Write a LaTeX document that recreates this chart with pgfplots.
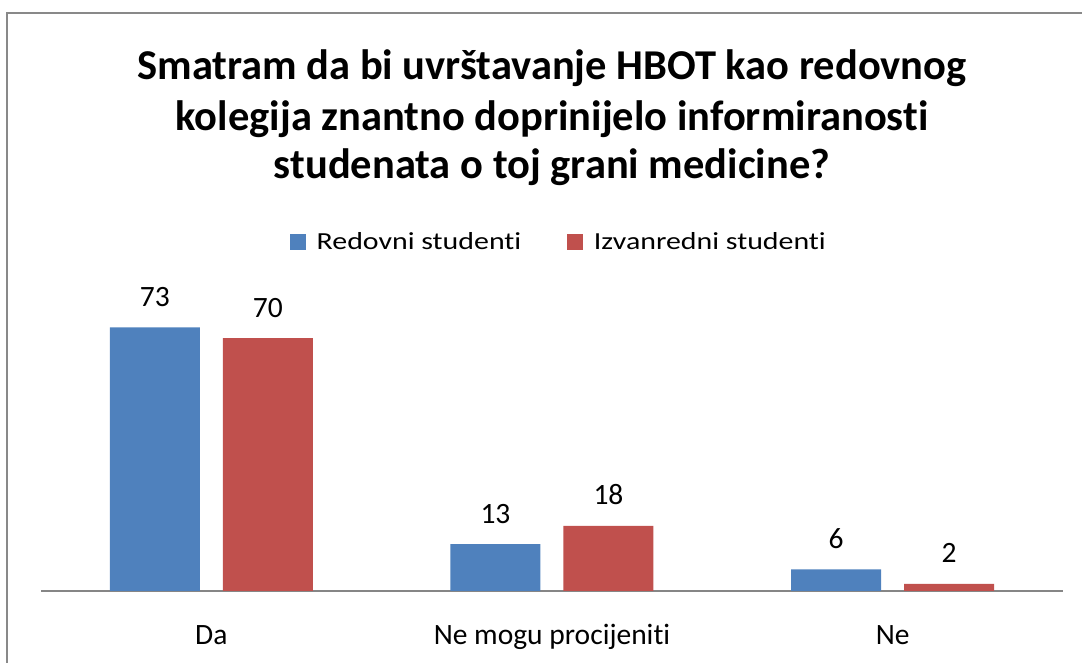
\documentclass[border=0pt]{standalone}
\usepackage{pgfplots}
\pgfplotsset{compat=1.18}
\usepackage{graphicx}
\usepackage{fontspec}
\setmainfont{Carlito}[Ligatures={NoCommon}]
\definecolor{barblue}{HTML}{4F81BD}
\definecolor{barred}{HTML}{C0504D}
\definecolor{axisgray}{HTML}{868686}
\definecolor{framegray}{HTML}{898989}
\begin{document}
\begin{tikzpicture}
\path[use as bounding box] (0pt,0pt) rectangle (1082pt,663pt);
\draw[framegray, line width=2.5pt] (7pt,-5pt) -- (7pt,650pt) -- (1090pt,650pt);
\node[anchor=base, inner sep=0pt, font=\fontsize{42.5}{48}\selectfont\bfseries] at (552pt,583pt) {Smatram da bi uvrštavanje HBOT kao redovnog};
\node[anchor=base, inner sep=0pt, font=\fontsize{42.5}{48}\selectfont\bfseries] at (552pt,532pt) {kolegija znantno doprinijelo informiranosti};
\node[anchor=base, inner sep=0pt, font=\fontsize{42.5}{48}\selectfont\bfseries] at (552pt,484pt) {studenata o toj grani medicine?};
\begin{axis}[
  at={(41pt,72pt)}, anchor=south west,
  scale only axis, width=1022pt, height=289pt,
  xmin=-0.5, xmax=2.5, ymin=0, ymax=80,
  axis x line=bottom, axis y line=none,
  x axis line style={-, draw=axisgray, line width=2pt},
  xtick={0,1,2},
  xticklabels={Da, Ne mogu procijeniti, Ne},
  xtick style={draw=none},
  xticklabel style={font=\fontsize{29.5}{35}\selectfont, anchor=base, inner sep=0pt, yshift=-49pt},
  ybar, bar width=90pt,
  clip=false,
  /pgf/number format/assume math mode=true,
  nodes near coords,
  every node near coord/.append style={font=\fontsize{29.5}{35}\selectfont, anchor=base, inner sep=0pt, yshift=21pt, text=black},
  legend columns=2,
  legend style={at={(0.5059,1.2075)}, anchor=center, draw=none, fill=none, inner sep=0pt,
    nodes={inner sep=0pt, anchor=base west},
    /tikz/every odd column/.append style={column sep=11pt},
    /tikz/every even column/.append style={column sep=46pt}},
  legend image code/.code={\fill[#1] (0pt,0pt) rectangle (15.5pt,15.5pt);},
]
\addplot[fill=barblue, draw=none, bar shift=-56.5pt] coordinates {(0,73) (1,13) (2,6)};
\addplot[fill=barred, draw=none, bar shift=56.5pt] coordinates {(0,70) (1,18) (2,2)};
\legend{\fontsize{24.5}{30}\selectfont\scalebox{1.22}[1]{Redovni studenti}, \fontsize{24.5}{30}\selectfont\scalebox{1.22}[1]{Izvanredni studenti}}
\end{axis}
\end{tikzpicture}
\end{document}
